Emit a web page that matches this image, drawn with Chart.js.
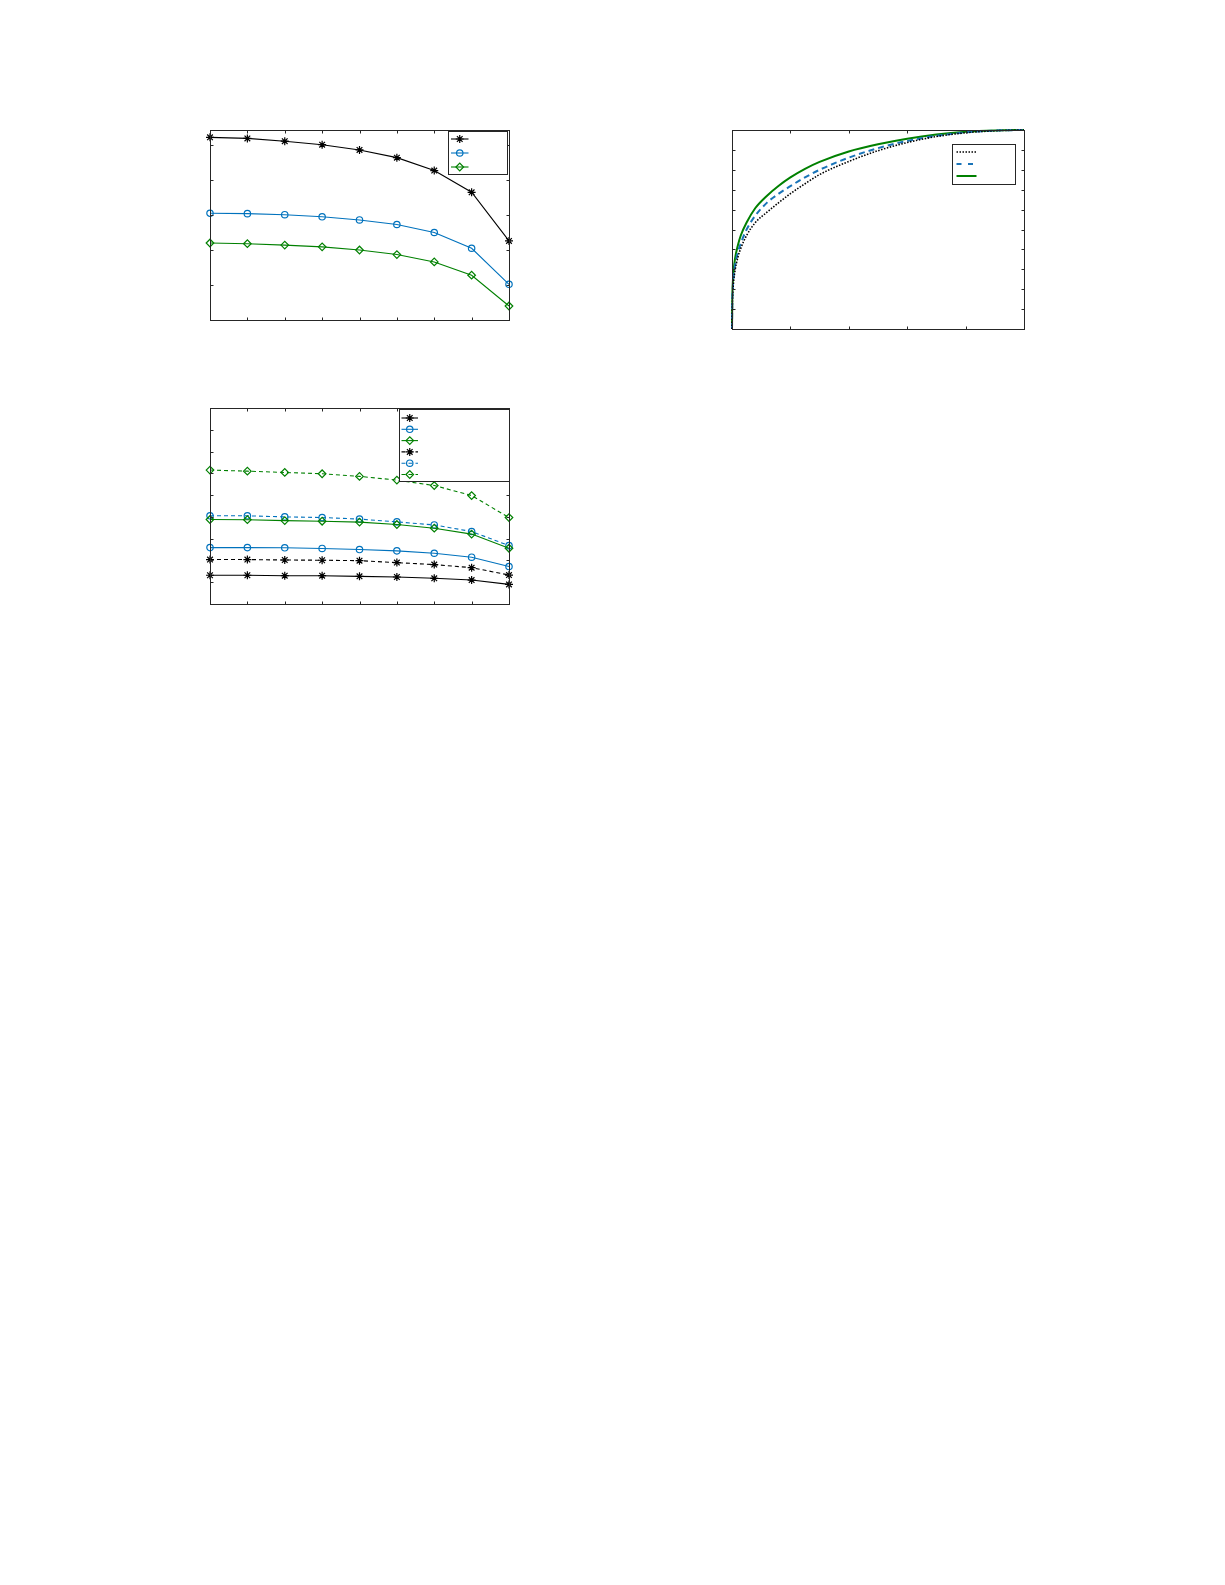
<!DOCTYPE html>
<html><head><meta charset="utf-8">
<script src="https://cdn.jsdelivr.net/npm/chart.js@4.4.0/dist/chart.umd.min.js"></script>
<style>
html,body{margin:0;padding:0;background:#fff;width:1225px;height:1585px;overflow:hidden;}
.wrap{position:absolute;}
</style></head><body>
<div class="wrap" id="w1"><canvas id="c1"></canvas></div>
<div class="wrap" id="w2"><canvas id="c2"></canvas></div>
<div class="wrap" id="w3"><canvas id="c3"></canvas></div>
<script>
// ---------- data ----------
// Panel 1 (top-left)
const steps = [1, 2, 3, 4, 5, 6, 7, 8, 9];
const p1Black = [5.22, 5.19, 5.11, 5.01, 4.86, 4.64, 4.27, 3.65, 2.26];
const p1Blue  = [3.05, 3.04, 3.01, 2.95, 2.86, 2.73, 2.50, 2.05, 1.02];
const p1Green = [2.20, 2.18, 2.14, 2.09, 2.00, 1.87, 1.66, 1.28, 0.40];
const p1YTicks = [0, 1, 2, 3, 4, 5];

// Panel 2 (top-right) cumulative curves
const p2X     = [0, 0.001, 0.003, 0.006, 0.01, 0.02, 0.03, 0.05, 0.08, 0.12, 0.16, 0.2, 0.25, 0.3, 0.4, 0.5, 0.6, 0.7, 0.8, 0.9, 1];
const p2Black = [0, 0.11, 0.19, 0.245, 0.29, 0.36, 0.405, 0.47, 0.535, 0.587, 0.635, 0.68, 0.73, 0.776, 0.842, 0.896, 0.937, 0.967, 0.986, 0.996, 1];
const p2Blue  = [0, 0.13, 0.21, 0.27, 0.315, 0.385, 0.43, 0.50, 0.57, 0.635, 0.68, 0.718, 0.762, 0.80, 0.861, 0.909, 0.945, 0.971, 0.988, 0.997, 1];
const p2Green = [0, 0.15, 0.24, 0.30, 0.35, 0.42, 0.47, 0.535, 0.608, 0.67, 0.72, 0.762, 0.805, 0.84, 0.892, 0.928, 0.956, 0.977, 0.991, 0.998, 1];
const p2XTicks = [0, 0.2, 0.4, 0.6, 0.8, 1];
const p2YTicks = [0, 0.1, 0.2, 0.3, 0.4, 0.5, 0.6, 0.7, 0.8, 0.9, 1];

// Panel 3 (bottom-left)
const p3BlackSolid  = [1.32, 1.32, 1.30, 1.30, 1.27, 1.24, 1.18, 1.10, 0.90];
const p3BlueSolid   = [2.59, 2.59, 2.58, 2.55, 2.50, 2.44, 2.33, 2.15, 1.72];
const p3GreenSolid  = [3.88, 3.87, 3.83, 3.80, 3.76, 3.65, 3.48, 3.21, 2.56];
const p3BlackDashed = [2.04, 2.04, 2.02, 2.01, 1.99, 1.90, 1.81, 1.67, 1.33];
const p3BlueDashed  = [4.05, 4.05, 4.00, 3.97, 3.90, 3.77, 3.63, 3.33, 2.68];
const p3GreenDashed = [6.15, 6.10, 6.04, 5.98, 5.86, 5.69, 5.44, 4.98, 3.97];
const p3YTicks = [0, 1, 2, 3, 4, 5, 6, 7, 8, 9];

// ---------- helpers ----------
const BLACK = '#000000', BLUE = '#0072BD', GREEN = '#008000';
const PAD = 8;
const xy = (xs, ys) => xs.map((v, i) => ({x: v, y: ys[i]}));

function place(id, box) {
  const w = document.getElementById(id);
  w.style.left = (box.l - PAD) + 'px';
  w.style.top = (box.t - PAD) + 'px';
  w.style.width = (box.r - box.l + 2 * PAD) + 'px';
  w.style.height = (box.b - box.t + 2 * PAD) + 'px';
}

function marker(ctx, style, r, x, y, color, bw) {
  ctx.save();
  ctx.strokeStyle = color; ctx.fillStyle = 'rgba(255,255,255,0)'; ctx.lineWidth = bw;
  ctx.setLineDash([]);
  if (Chart.helpers && Chart.helpers.drawPoint) {
    Chart.helpers.drawPoint(ctx, {pointStyle: style, radius: r, rotation: 0, borderWidth: bw}, x, y);
  }
  ctx.restore();
}

function framePlugin(xTicks, yTicks, legend) {
  return {
    id: 'frame',
    afterDraw(chart) {
      const ctx = chart.ctx, a = chart.chartArea, xs = chart.scales.x, ys = chart.scales.y;
      const L = Math.round(a.left) + 0.5, T = Math.round(a.top) + 0.5;
      const R = Math.round(a.right) + 0.5, B = Math.round(a.bottom) + 0.5;
      ctx.save();
      ctx.strokeStyle = '#262626'; ctx.lineWidth = 1; ctx.setLineDash([]);
      const tl = 3;
      ctx.beginPath();
      xTicks.forEach(v => {
        const p = Math.round(xs.getPixelForValue(v)) + 0.5;
        ctx.moveTo(p, B); ctx.lineTo(p, B - tl);
        ctx.moveTo(p, T); ctx.lineTo(p, T + tl);
      });
      yTicks.forEach(v => {
        const p = Math.round(ys.getPixelForValue(v)) + 0.5;
        ctx.moveTo(L, p); ctx.lineTo(L + tl, p);
        ctx.moveTo(R, p); ctx.lineTo(R - tl, p);
      });
      ctx.stroke();
      ctx.strokeRect(L, T, R - L, B - T);
      // legend
      if (legend) {
        const lx = Math.round(a.left + legend.dx) + 0.5, ly = Math.round(a.top + legend.dy) + 0.5;
        ctx.fillStyle = '#ffffff';
        ctx.fillRect(lx, ly, legend.w, legend.h);
        ctx.strokeStyle = '#262626'; ctx.lineWidth = 1;
        ctx.strokeRect(lx, ly, legend.w, legend.h);
        chart.data.datasets.forEach((ds, i) => {
          const ry = ly + legend.rows[i];
          ctx.save();
          ctx.strokeStyle = ds.borderColor; ctx.lineWidth = ds.borderWidth;
          ctx.setLineDash(ds.legendDash || ds.borderDash || []);
          ctx.beginPath();
          ctx.moveTo(lx + legend.s0, ry); ctx.lineTo(lx + legend.s1, ry);
          ctx.stroke();
          ctx.restore();
          if (ds.pointRadius > 0) {
            marker(ctx, ds.pointStyle, ds.pointRadius, lx + (legend.s0 + legend.s1) / 2, ry, ds.borderColor, ds.pointBorderWidth);
          }
        });
      }
      ctx.restore();
    }
  };
}

function lineDs(label, data, color, style, dash) {
  return {
    label, data, borderColor: color, backgroundColor: color,
    borderWidth: 1.1, borderDash: dash || [],
    pointStyle: style, pointRadius: style === 'star' ? 4 : (style === 'rectRot' ? 3.8 : 3.2),
    pointBorderWidth: 1.2, pointBorderColor: color,
    pointBackgroundColor: 'rgba(255,255,255,0)',
    tension: 0, clip: false, fill: false
  };
}

function baseOptions(xmin, xmax, ymin, ymax) {
  return {
    responsive: true, maintainAspectRatio: false, animation: false,
    layout: {padding: PAD},
    plugins: {legend: {display: false}, tooltip: {enabled: false}},
    scales: {
      x: {type: 'linear', min: xmin, max: xmax, display: false},
      y: {type: 'linear', min: ymin, max: ymax, display: false}
    }
  };
}

// ---------- panel 1 ----------
const box1 = {l: 210, t: 130, r: 509, b: 320};
place('w1', box1);
new Chart(document.getElementById('c1'), {
  type: 'line',
  data: {datasets: [
    lineDs('A', xy(steps, p1Black), BLACK, 'star'),
    lineDs('B', xy(steps, p1Blue), BLUE, 'circle'),
    lineDs('C', xy(steps, p1Green), GREEN, 'rectRot')
  ]},
  options: baseOptions(1, 9, 0, 5.43),
  plugins: [framePlugin(steps, p1YTicks, {dx: 238, dy: 1, w: 59, h: 43, rows: [7.5, 21.5, 35.5], s0: 2.5, s1: 20})]
});

// ---------- panel 2 ----------
const box2 = {l: 732, t: 130, r: 1024, b: 329};
place('w2', box2);
function curveDs(label, data, color, dash, width, legendDash) {
  return {
    label, data, borderColor: color, backgroundColor: color,
    borderWidth: width, borderDash: dash, legendDash: legendDash,
    pointRadius: 0, cubicInterpolationMode: 'monotone', clip: false, fill: false
  };
}
new Chart(document.getElementById('c2'), {
  type: 'line',
  data: {datasets: [
    curveDs('A', xy(p2X, p2Black), BLACK, [1.5, 1.5], 1.6, [1.5, 1.5]),
    curveDs('B', xy(p2X, p2Blue), '#1a74b8', [6, 4], 2, [5, 6.5]),
    curveDs('C', xy(p2X, p2Green), GREEN, [], 2, [])
  ]},
  options: baseOptions(0, 1, 0, 1),
  plugins: [framePlugin(p2XTicks, p2YTicks, {dx: 220, dy: 14, w: 63, h: 40, rows: [7.5, 19.5, 31.5], s0: 4, s1: 24})]
});

// ---------- panel 3 ----------
const box3 = {l: 210, t: 408, r: 509, b: 604};
place('w3', box3);
new Chart(document.getElementById('c3'), {
  type: 'line',
  data: {datasets: [
    lineDs('A1', xy(steps, p3BlackSolid), BLACK, 'star'),
    lineDs('B1', xy(steps, p3BlueSolid), BLUE, 'circle'),
    lineDs('C1', xy(steps, p3GreenSolid), GREEN, 'rectRot'),
    lineDs('A2', xy(steps, p3BlackDashed), BLACK, 'star', [4, 3]),
    lineDs('B2', xy(steps, p3BlueDashed), BLUE, 'circle', [4, 3]),
    lineDs('C2', xy(steps, p3GreenDashed), GREEN, 'rectRot', [4, 3])
  ]},
  options: baseOptions(1, 9, 0, 9),
  plugins: [framePlugin(steps, p3YTicks, {dx: 189, dy: 1, w: 110, h: 72, rows: [8.5, 19.8, 31.1, 42.4, 53.7, 65], s0: 2, s1: 18.5})]
});
</script>
</body></html>
